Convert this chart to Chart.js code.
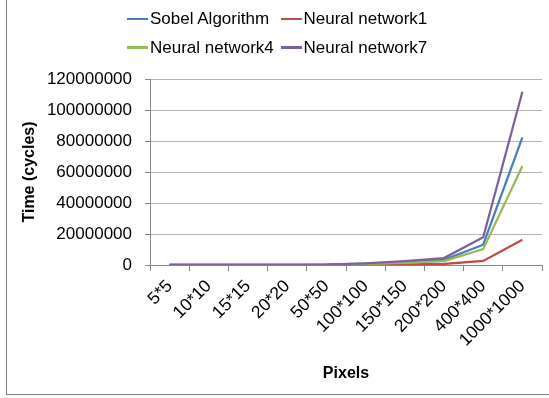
<!DOCTYPE html>
<html>
<head>
<meta charset="utf-8">
<script src="https://cdn.jsdelivr.net/npm/chart.js@4.4.1/dist/chart.umd.min.js"></script>
<style>
  html, body { margin: 0; padding: 0; background: #fff; }
  #wrap { position: relative; width: 549px; height: 398px; overflow: hidden; }
  #frame { position: absolute; left: 6px; top: -5px; width: 560px; height: 400px;
           border-left: 1.5px solid #7f7f7f; border-bottom: 1.5px solid #7f7f7f; box-sizing: border-box; }
  canvas { position: absolute; left: 0; top: 0; }
  #legend { position: absolute; left: 127px; top: 4.6px; display: grid;
            grid-template-columns: 153.5px 160px; grid-auto-rows: 28.7px;
            font-family: "Liberation Sans", Arial, sans-serif; font-size: 17px; color: #000; }
  .item { display: flex; align-items: center; white-space: nowrap; }
  .swatch { width: 21px; height: 2.5px; margin-right: 2px; flex: none; }
</style>
</head>
<body>
<div id="wrap">
  <div id="frame"></div>
  <canvas id="c" width="549" height="398"></canvas>
  <div id="legend"></div>
</div>
<script>
const categories = ["5*5", "10*10", "15*15", "20*20", "50*50", "100*100", "150*150", "200*200", "400*400", "1000*1000"];
const sobel = [2050, 8200, 18450, 32800, 205000, 820000, 1845000, 3300000, 13100000, 82400000];
const nn1   = [410, 1640, 3690, 6560, 41000, 164000, 369000, 660000, 2620000, 16300000];
const nn4   = [1600, 6400, 14400, 25600, 160000, 640000, 1440000, 2560000, 10200000, 63900000];
const nn7   = [2800, 11200, 25200, 44800, 280000, 1120000, 2520000, 4480000, 17900000, 111800000];
const seriesNames = ["Sobel Algorithm", "Neural network1", "Neural network4", "Neural network7"];
const seriesColors = ["#4a7ebb", "#be4b48", "#98b954", "#7d60a0"];
const yTicks = [0, 20000000, 40000000, 60000000, 80000000, 100000000, 120000000];

const FONT = '"Liberation Sans", Arial, sans-serif';
const allData = [sobel, nn1, nn4, nn7];

const datasets = allData.map((d, i) => ({
  label: seriesNames[i],
  data: d,
  borderColor: seriesColors[i],
  backgroundColor: seriesColors[i],
  borderWidth: 2.25,
  pointRadius: 0,
  tension: 0,
  fill: false,
  order: 4 - i
}));

// HTML legend (2 x 2 grid as in the reference)
const legend = document.getElementById('legend');
seriesNames.forEach((n, i) => {
  const it = document.createElement('div');
  it.className = 'item';
  const sw = document.createElement('span');
  sw.className = 'swatch';
  sw.style.background = seriesColors[i];
  const tx = document.createElement('span');
  tx.textContent = n;
  it.appendChild(sw); it.appendChild(tx);
  legend.appendChild(it);
});

new Chart(document.getElementById('c'), {
  type: 'line',
  data: { labels: categories, datasets },
  options: {
    responsive: false,
    animation: false,
    layout: { padding: { left: 7, right: 7, top: 79, bottom: 3 } },
    plugins: { legend: { display: false }, tooltip: { enabled: false } },
    scales: {
      x: {
        offset: true,
        grid: { display: true, drawOnChartArea: false, drawTicks: true, tickLength: 6, color: '#868686', offset: true },
        border: { color: '#868686', width: 1 },
        ticks: { autoSkip: false, minRotation: 45, maxRotation: 45, padding: 5, color: '#000', font: { family: FONT, size: 17.5 } },
        title: { display: true, text: 'Pixels', color: '#000', font: { family: FONT, size: 16, weight: 'bold' }, padding: { top: 12, bottom: 12 } },
        afterFit: s => { s.height = 130; }
      },
      y: {
        min: 0, max: 120000000,
        afterBuildTicks: s => { s.ticks = yTicks.map(v => ({ value: v })); },
        grid: { color: '#b3b3b3', tickLength: 5, tickColor: '#868686' },
        border: { color: '#868686', width: 1 },
        ticks: { padding: 13, color: '#000', font: { family: FONT, size: 17 }, callback: v => String(v) },
        title: { display: true, text: 'Time (cycles)', color: '#000', font: { family: FONT, size: 16, weight: 'bold' }, padding: { top: 13, bottom: 12 } },
        afterFit: s => { s.width = 143; }
      }
    }
  }
});
</script>
</body>
</html>
